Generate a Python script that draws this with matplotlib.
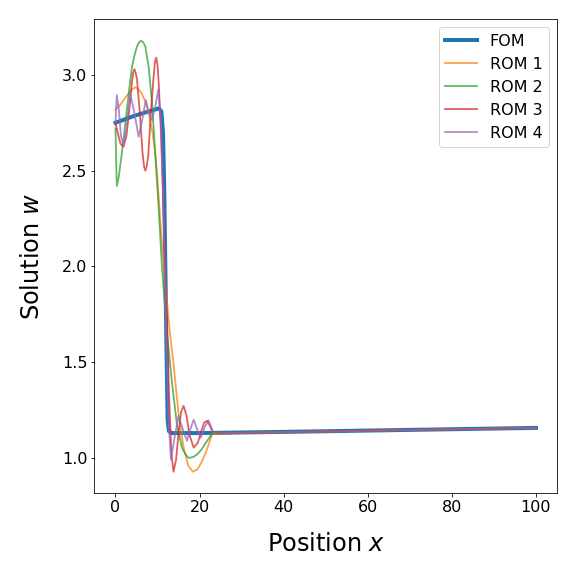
import matplotlib
matplotlib.use("Agg")
import matplotlib.pyplot as plt

# Full order model solution
fom_x = [0, 5, 10.3, 10.9, 11.3, 11.6, 12.1, 12.4, 12.7, 13.3, 20, 40, 60, 80, 100]
fom_y = [2.75, 2.79, 2.825, 2.81, 2.70, 2.40, 1.61, 1.20, 1.14, 1.13, 1.13, 1.136, 1.143, 1.150, 1.157]

# Reduced order models
rom1_x = [0, 1, 2, 3, 4, 4.7, 5.5, 6.3, 7.1, 7.9, 8.7, 9.3, 9.85, 10.8, 11.8, 12.9, 13.8,
          15, 16.2, 17.3, 18.4, 19.5, 20.5, 21.5, 22.3, 23.0, 30, 100]
rom1_y = [2.82, 2.84, 2.87, 2.90, 2.925, 2.935, 2.925, 2.90, 2.86, 2.80, 2.71, 2.62, 2.50,
          2.19, 1.92, 1.665, 1.49, 1.23, 1.054, 0.96, 0.928, 0.94, 0.98, 1.03, 1.08, 1.125,
          1.131, 1.157]

rom2_x = [0, 0.3, 0.8, 1.5, 2.1, 2.7, 3.3, 3.9, 4.5, 5.1, 5.6, 6.1, 6.6, 7.1, 7.9, 8.7, 9.45,
          10.2, 11.05, 12.2, 13.4, 14.6, 15.8, 16.6, 17.4, 18.5, 19.5, 20.5, 21.5, 22.3, 23.0,
          30, 100]
rom2_y = [2.72, 2.42, 2.47, 2.59, 2.70, 2.817, 2.93, 3.04, 3.10, 3.148, 3.17, 3.178, 3.17,
          3.148, 3.04, 2.85, 2.59, 2.33, 2.0, 1.665, 1.40, 1.176, 1.054, 1.02, 1.0, 1.005, 1.02,
          1.045, 1.08, 1.105, 1.127, 1.131, 1.157]

rom3_x = [0, 0.6, 1.2, 1.9, 2.6, 3.3, 3.9, 4.2, 4.5, 4.8, 5.1, 5.8, 6.4, 6.8, 7.1, 7.4, 7.8,
          8.4, 9.1, 9.4, 9.7, 10.0, 10.3, 10.9, 11.5, 12.1, 12.7, 13.3, 13.8, 14.4, 15.0, 15.6,
          16.2, 16.9, 17.6, 18.6, 19.6, 20.4, 21.1, 21.8, 22.5, 23.2, 30, 100]
rom3_y = [2.75, 2.69, 2.64, 2.625, 2.68, 2.82, 2.96, 3.01, 3.03, 3.01, 2.98, 2.80, 2.60, 2.52,
          2.50, 2.52, 2.58, 2.80, 3.00, 3.07, 3.09, 3.05, 2.95, 2.65, 2.25, 1.80, 1.35, 1.02,
          0.928, 0.99, 1.13, 1.24, 1.272, 1.22, 1.12, 1.054, 1.08, 1.14, 1.185, 1.194, 1.165,
          1.133, 1.131, 1.157]

rom4_x = [0, 0.3, 0.8, 1.3, 1.9, 2.6, 3.5, 4.5, 5.5, 6.4, 7.2, 8.0, 8.7, 9.5, 10.2, 10.8,
          11.4, 12.0, 12.6, 13.2, 14.0, 15.0, 16.0, 17.0, 17.8, 18.6, 19.4, 20.3, 21.2, 22.1,
          22.8, 23.2, 30, 100]
rom4_y = [2.75, 2.895, 2.82, 2.68, 2.633, 2.72, 2.904, 2.80, 2.677, 2.77, 2.869, 2.80, 2.764,
          2.84, 2.925, 2.75, 2.3, 1.7, 1.2, 0.993, 1.10, 1.22, 1.15, 1.09, 1.15, 1.20, 1.15,
          1.106, 1.16, 1.197, 1.16, 1.133, 1.131, 1.157]

fig = plt.figure(figsize=(8, 8), dpi=72)
ax = fig.add_axes([0.164, 0.1436, 0.803, 0.823])

ax.plot(fom_x, fom_y, color="C0", lw=4, label="FOM")
ax.plot(rom1_x, rom1_y, color="C1", lw=1.8, alpha=0.75, label="ROM 1")
ax.plot(rom2_x, rom2_y, color="C2", lw=1.8, alpha=0.75, label="ROM 2")
ax.plot(rom3_x, rom3_y, color="C3", lw=1.8, alpha=0.75, label="ROM 3")
ax.plot(rom4_x, rom4_y, color="C4", lw=1.8, alpha=0.75, label="ROM 4")

ax.set_xlabel("Position $x$", fontsize=24, labelpad=17)
ax.set_ylabel("Solution $w$", fontsize=24, labelpad=18)
ax.tick_params(labelsize=16)
ax.legend(loc="upper right", fontsize=16)

fig.savefig("out.png", dpi=72)
